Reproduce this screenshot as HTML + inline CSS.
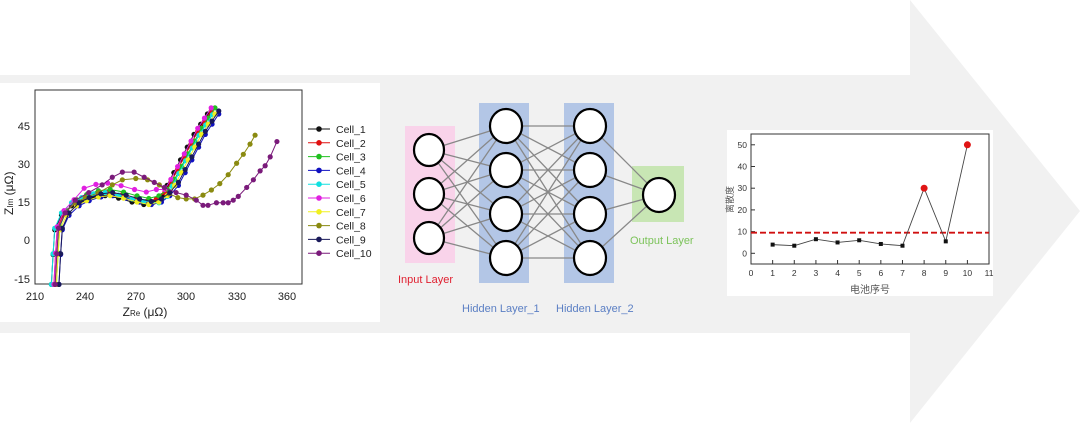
<!DOCTYPE html>
<html><head><meta charset="utf-8"><style>
html,body{margin:0;padding:0;background:#fff;}
svg{display:block;font-family:"Liberation Sans","Noto Sans CJK SC",sans-serif;}
</style></head><body>
<svg id="s" width="1080" height="423" viewBox="0 0 1080 423" xmlns="http://www.w3.org/2000/svg">
<polygon points="0,75 910,75 910,0 1080,211 910,423 910,333 0,333" fill="#f1f1f1"/>
<rect x="0" y="83" width="380" height="239" fill="#fff"/>
<rect x="35" y="90" width="267" height="194" fill="#fff" stroke="#333" stroke-width="1"/>
<g id="lp"></g>
<g font-size="11" fill="#222">
<text x="30" y="130" text-anchor="end">45</text>
<text x="30" y="168" text-anchor="end">30</text>
<text x="30" y="206" text-anchor="end">15</text>
<text x="30" y="244" text-anchor="end">0</text>
<text x="30" y="283" text-anchor="end">-15</text>
<text x="35" y="300" text-anchor="middle">210</text>
<text x="85" y="300" text-anchor="middle">240</text>
<text x="136" y="300" text-anchor="middle">270</text>
<text x="186" y="300" text-anchor="middle">300</text>
<text x="237" y="300" text-anchor="middle">330</text>
<text x="287" y="300" text-anchor="middle">360</text>
<text x="145" y="316" text-anchor="middle" font-size="12">Z<tspan font-size="8">Re</tspan> (μΩ)</text>
<text transform="translate(13,215) rotate(-90)" font-size="12">Z<tspan font-size="8">Im</tspan> (μΩ)</text>
</g>
<g id="leg" font-size="10.5" fill="#222"></g>
<rect x="405" y="126" width="50" height="137" fill="#f9d3ea"/>
<rect x="479" y="103" width="50" height="180" fill="#b3c6e6"/>
<rect x="564" y="103" width="50" height="180" fill="#b3c6e6"/>
<rect x="632" y="166" width="52" height="56" fill="#c8e6b4"/>
<g id="nn" stroke="#888" stroke-width="1.3"></g>
<g font-size="11">
<text x="398" y="283" fill="#e02030">Input Layer</text>
<text x="462" y="312" fill="#5b7fc4">Hidden Layer_1</text>
<text x="556" y="312" fill="#5b7fc4">Hidden Layer_2</text>
<text x="630" y="244" fill="#7cc35a">Output Layer</text>
</g>
<rect x="727" y="130" width="266" height="166" fill="#fff"/>
<rect x="751" y="134" width="238" height="130" fill="none" stroke="#333" stroke-width="1"/>
<g id="rp"></g>
<text x="870" y="293" font-size="10" fill="#555" text-anchor="middle">电池序号</text>
<text transform="translate(733,213) rotate(-90)" font-size="9" fill="#555">离散度</text>
</svg>
<script>
var NS="http://www.w3.org/2000/svg";
function el(p,t,a){var e=document.createElementNS(NS,t);for(var k in a)e.setAttribute(k,a[k]);p.appendChild(e);return e;}
var lp=document.getElementById('lp');
function X(v){return 35+(v-210)*1.68;}function Y(v){return 241+(-v)*2.55;}
var cols=['#111','#e01010','#20c020','#1010c0','#10e0e0','#e020e0','#f0f020','#8a8a10','#1a1a5a','#7a1a7a'];
var base=[[222,-17],[223,-5],[224,5],[228,11],[234,15],[240,17],[247,18.5],[254,19],[262,18],[270,16.5],[277,15.5],[283,16.5],[288,19],[292,23],[296,28],[300,33],[304,38],[308,43],[312,47],[316,51]];
var curves=[];
for(var i=0;i<8;i++){var dx=(i%4-1.5)*1.5,dy=(i%3-1)*1.2;curves.push(base.map(function(p,j){var f=Math.min(1,j/4);return [p[0]+dx*(j>12?1.5:1),p[1]+dy*f];}));}
curves[4]=curves[4].map(function(p,j){return j>10?[p[0]+3,p[1]-1.5]:p;});
curves[5]=curves[5].map(function(p,j){return (j>4&&j<12)?[p[0],p[1]+2.5]:p;});
var c8=[[222,-17],[223,-5],[224,5],[228,11],[234,15],[240,17],[248,19],[256,22],[262,24],[270,24.5],[277,24],[284,22],[290,18.5],[295,17],[300,16.5],[305,16.5],[310,18],[315,20],[320,22.5],[325,26],[330,30.5],[334,34],[338,38],[341,41.5]];
var c10=[[222,-17],[223,-5],[224,5],[228,11],[234,16],[242,19],[250,22],[256,25],[262,27],[269,27],[275,25],[281,23],[287,21],[294,19],[300,18],[306,16],[310,14],[313,14],[318,15],[322,15],[325,15],[328,16],[331,17.5],[336,21],[340,24],[344,27.5],[347,29.5],[350,33],[354,39]];
curves.splice(7,0,c8);curves.push(c10);
curves.forEach(function(c,i){
 el(lp,'polyline',{points:c.map(function(p){return X(p[0])+','+Y(p[1]);}).join(' '),fill:'none',stroke:cols[i],'stroke-width':1});
 c.forEach(function(p){el(lp,'circle',{cx:X(p[0]),cy:Y(p[1]),r:2.6,fill:cols[i]});});
});
var leg=document.getElementById('leg');
for(var i=0;i<10;i++){var y=129+i*13.8;
 el(leg,'line',{x1:308,y1:y,x2:330,y2:y,stroke:cols[i],'stroke-width':1});
 el(leg,'circle',{cx:319,cy:y,r:2.8,fill:cols[i]});
 var t=el(leg,'text',{x:336,y:y+4});t.textContent='Cell_'+(i+1);}
var nn=document.getElementById('nn');
var L=[[429,[150,194,238]],[506,[126,170,214,258]],[590,[126,170,214,258]],[659,[195]]];
for(var l=0;l<3;l++)L[l][1].forEach(function(a){L[l+1][1].forEach(function(b){el(nn,'line',{x1:L[l][0],y1:a,x2:L[l+1][0],y2:b});});});
L.forEach(function(g,l){g[1].forEach(function(y){el(nn,'ellipse',{cx:g[0],cy:y,rx:l==0?15:16,ry:l==0?16:17,fill:'#fff',stroke:'#000','stroke-width':2.2});});});
var rp=document.getElementById('rp');
function RX(v){return 751+v*21.64;}function RY(v){return 253.3-v*2.17;}
for(var k=0;k<=11;k++){el(rp,'line',{x1:RX(k),y1:264,x2:RX(k),y2:260,stroke:'#333'});var t=el(rp,'text',{x:RX(k),y:276,'font-size':8.5,'text-anchor':'middle',fill:'#333'});t.textContent=k;}
for(var v=0;v<=50;v+=10){el(rp,'line',{x1:751,y1:RY(v),x2:755,y2:RY(v),stroke:'#333'});var t=el(rp,'text',{x:747,y:RY(v)+3,'font-size':8.5,'text-anchor':'end',fill:'#333'});t.textContent=v;}
el(rp,'line',{x1:751,y1:RY(9.5),x2:989,y2:RY(9.5),stroke:'#d01010','stroke-width':1.8,'stroke-dasharray':'6,3'});
var d=[4,3.5,6.5,5,6,4.3,3.5,30,5.5,50];
el(rp,'polyline',{points:d.map(function(v,i){return RX(i+1)+','+RY(v);}).join(' '),fill:'none',stroke:'#444','stroke-width':0.9});
d.forEach(function(v,i){if(i==7||i==9)el(rp,'circle',{cx:RX(i+1),cy:RY(v),r:3.5,fill:'#e01515'});else el(rp,'rect',{x:RX(i+1)-2,y:RY(v)-2,width:4,height:4,fill:'#111'});});
</script>
</body></html>
